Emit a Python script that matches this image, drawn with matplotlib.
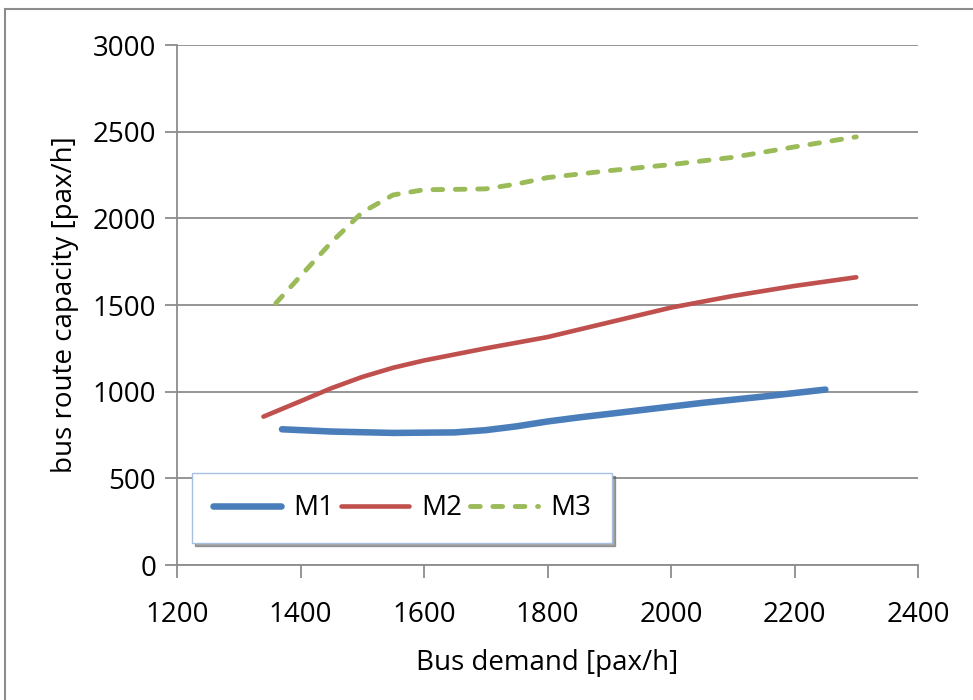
import matplotlib

matplotlib.use("Agg")
import matplotlib.pyplot as plt
from matplotlib.patches import Rectangle

# values
m1_demand = [1370, 1450, 1550, 1650, 1700, 1750, 1800, 1850, 1950, 2050, 2150, 2250]
m1_capacity = [783, 770, 762, 765, 778, 800, 828, 851, 893, 935, 972, 1012]

m2_demand = [1340, 1400, 1450, 1500, 1550, 1600, 1700, 1800, 1900, 2000, 2100, 2200, 2300]
m2_capacity = [856, 945, 1020, 1085, 1138, 1180, 1250, 1315, 1400, 1485, 1552, 1610, 1660]

m3_demand = [1360, 1400, 1450, 1500, 1550, 1600, 1650, 1700, 1750, 1800, 1900, 2000, 2100, 2200, 2300]
m3_capacity = [1510, 1667, 1862, 2035, 2135, 2165, 2167, 2170, 2198, 2235, 2275, 2310, 2352, 2412, 2470]

x_ticks = [1200, 1400, 1600, 1800, 2000, 2200, 2400]
y_ticks = [0, 500, 1000, 1500, 2000, 2500, 3000]

plt.rcParams["font.family"] = ["Open Sans", "DejaVu Sans"]

W, H = 973, 700
FS = 20
fig = plt.figure(figsize=(W / 100, H / 100), dpi=100)
ax = fig.add_axes([177 / W, 1 - 565 / H, (918 - 177) / W, (565 - 45) / H])

# outer chart frame (only top/left visible in the reference)
fig.patches.append(
    Rectangle((5 / W, -0.1), 1.2, 1 - 9 / H + 0.1, transform=fig.transFigure,
              fill=False, edgecolor="#8c8c8c", linewidth=1.5)
)

ax.plot(m1_demand, m1_capacity, color="#4a7ebb", linewidth=4.7,
        solid_capstyle="round", label="M1", zorder=3)
ax.plot(m2_demand, m2_capacity, color="#c0504d", linewidth=3.3,
        solid_capstyle="round", label="M2", zorder=3)
ax.plot(m3_demand, m3_capacity, color="#9bbb59", linewidth=3.5,
        linestyle=(0, (2.0, 2.6)), dash_capstyle="round", label="M3", zorder=3)

ax.set_xlim(1200, 2400)
ax.set_ylim(0, 3000)
ax.set_xticks(x_ticks)
ax.set_yticks(y_ticks)
ax.grid(axis="y", color="#8c8c8c", linewidth=1.3)
ax.set_axisbelow(True)

for side in ("top", "right"):
    ax.spines[side].set_visible(False)
for side in ("left", "bottom"):
    ax.spines[side].set_color("#8c8c8c")
    ax.spines[side].set_linewidth(1.3)
ax.tick_params(axis="both", direction="out", length=9, width=1.3,
               color="#8c8c8c", labelsize=FS)
ax.tick_params(axis="x", pad=17)
ax.tick_params(axis="y", pad=6)

ax.set_xlabel("Bus demand [pax/h]", fontsize=FS, labelpad=14)
ax.set_ylabel("bus route capacity [pax/h]", fontsize=FS, labelpad=10)

leg = ax.legend(loc="lower left", bbox_to_anchor=(0.02, 0.042), ncol=3,
                fontsize=FS, frameon=True, fancybox=False, shadow=True,
                handlelength=2.45, handletextpad=0.45, columnspacing=0.25,
                borderpad=0.75, borderaxespad=0)
leg.get_frame().set_edgecolor("#a7bfe0")
leg.get_frame().set_linewidth(1.0)

fig.savefig("out.png", dpi=100)
